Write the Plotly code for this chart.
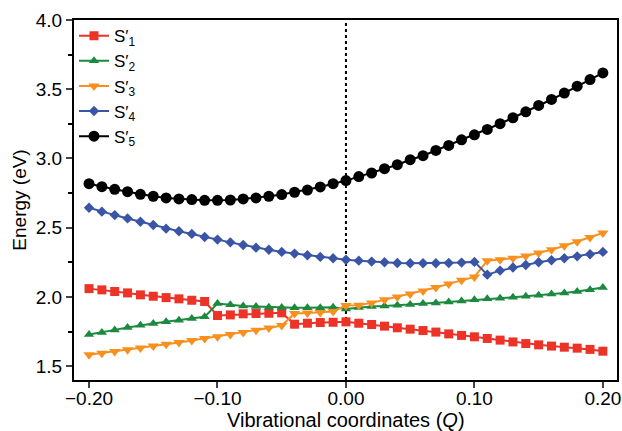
import plotly.graph_objects as go

Q = [-0.20, -0.19, -0.18, -0.17, -0.16, -0.15, -0.14, -0.13, -0.12, -0.11,
     -0.10, -0.09, -0.08, -0.07, -0.06, -0.05, -0.04, -0.03, -0.02, -0.01,
     0.00,
     0.01, 0.02, 0.03, 0.04, 0.05, 0.06, 0.07, 0.08, 0.09, 0.10,
     0.11, 0.12, 0.13, 0.14, 0.15, 0.16, 0.17, 0.18, 0.19, 0.20]

S1 = [2.060, 2.051, 2.039, 2.029, 2.015, 2.005, 1.995, 1.986, 1.976, 1.967,
      1.866, 1.870, 1.878, 1.880, 1.882, 1.885, 1.803, 1.810, 1.815, 1.817,
      1.820,
      1.810, 1.801, 1.789, 1.777, 1.767, 1.757, 1.746, 1.733, 1.722, 1.712,
      1.700, 1.688, 1.675, 1.663, 1.654, 1.645, 1.637, 1.630, 1.621, 1.608]

S2 = [1.729, 1.743, 1.762, 1.779, 1.796, 1.808, 1.820, 1.832, 1.844, 1.856,
      1.952, 1.943, 1.935, 1.931, 1.926, 1.923, 1.921, 1.921, 1.921, 1.925,
      1.912,
      1.923, 1.931, 1.935, 1.940, 1.945, 1.952, 1.957, 1.964, 1.971, 1.979,
      1.986, 1.991, 1.998, 2.005, 2.012, 2.022, 2.029, 2.039, 2.051, 2.068]

S3 = [1.582, 1.594, 1.606, 1.618, 1.632, 1.645, 1.659, 1.671, 1.685, 1.700,
      1.712, 1.729, 1.743, 1.760, 1.776, 1.793, 1.880, 1.884, 1.888, 1.895,
      1.938,
      1.940, 1.957, 1.979, 2.000, 2.022, 2.043, 2.068, 2.094, 2.120, 2.144,
      2.262, 2.269, 2.279, 2.296, 2.317, 2.341, 2.370, 2.399, 2.430, 2.462]

S4 = [2.644, 2.616, 2.591, 2.567, 2.543, 2.519, 2.493, 2.474, 2.455, 2.433,
      2.414, 2.394, 2.375, 2.356, 2.341, 2.325, 2.313, 2.301, 2.289, 2.279,
      2.269,
      2.262, 2.255, 2.250, 2.245, 2.243, 2.243, 2.243, 2.245, 2.248, 2.253,
      2.161, 2.190, 2.212, 2.231, 2.250, 2.265, 2.279, 2.293, 2.308, 2.325]

S5 = [2.818, 2.796, 2.777, 2.760, 2.741, 2.727, 2.715, 2.708, 2.703, 2.698,
      2.698, 2.700, 2.708, 2.715, 2.727, 2.739, 2.756, 2.772, 2.794, 2.818,
      2.840,
      2.869, 2.895, 2.926, 2.955, 2.991, 3.020, 3.058, 3.094, 3.135, 3.171,
      3.210, 3.251, 3.294, 3.337, 3.383, 3.426, 3.472, 3.522, 3.570, 3.618]

names = ["S′<sub>1</sub>", "S′<sub>2</sub>", "S′<sub>3</sub>", "S′<sub>4</sub>", "S′<sub>5</sub>"]
series = [S1, S2, S3, S4, S5]
colors = ["#EC3328", "#1C8A3E", "#F7901E", "#3A55A6", "#000000"]
symbols = ["square", "triangle-up", "triangle-down", "diamond", "circle"]
sizes = [9, 9, 10, 8, 11]

FONT = "Liberation Sans, Arial, sans-serif"

fig = go.Figure()
for name, ys, c, sym, sz in zip(names, series, colors, symbols, sizes):
    fig.add_trace(go.Scatter(
        x=Q, y=ys, name=name, mode="lines+markers",
        line=dict(color=c, width=2),
        marker=dict(symbol=sym, size=sz, color=c, line=dict(width=0)),
    ))

fig.add_shape(type="line", xref="x", yref="paper", x0=0, x1=0, y0=0, y1=1,
              line=dict(color="black", width=2, dash="dot"), layer="below")

fig.add_annotation(text="Vibrational coordinates (<i>Q</i>)", xref="paper", yref="paper",
                   x=0.5, y=-0.11, xanchor="center", yanchor="middle",
                   showarrow=False, font=dict(size=20))

fig.update_layout(
    width=622, height=431,
    margin=dict(l=74, r=5, t=20, b=51),
    plot_bgcolor="white", paper_bgcolor="white",
    font=dict(family=FONT, size=18, color="black"),
    showlegend=True,
    legend=dict(x=0.0, y=1.005, xanchor="left", yanchor="top",
                bgcolor="rgba(0,0,0,0)", font=dict(size=17),
                tracegroupgap=0, itemwidth=30),
    xaxis=dict(
        range=[-0.2117, 0.211], tickvals=[-0.2, -0.1, 0.0, 0.1, 0.2],
        tickformat=".2f", ticks="outside", ticklen=6, tickwidth=2,
        tickfont=dict(size=19), automargin=False, ticklabelstandoff=-6,
        showline=True, linewidth=2, linecolor="black", mirror=True,
        showgrid=False, zeroline=False,
    ),
    yaxis=dict(
        range=[1.40, 4.0], tickvals=[1.5, 2.0, 2.5, 3.0, 3.5, 4.0],
        tickformat=".1f", ticks="outside", ticklen=6, tickwidth=2,
        tickfont=dict(size=19), automargin=False,
        minor=dict(tickvals=[1.75, 2.25, 2.75, 3.25, 3.75], ticks="outside",
                   ticklen=4, tickwidth=2, tickcolor="black"),
        showline=True, linewidth=2, linecolor="black", mirror=True,
        showgrid=False, zeroline=False,
        title=dict(text="Energy (eV)", standoff=4, font=dict(size=19)),
    ),
)

fig.write_html("out.html")
